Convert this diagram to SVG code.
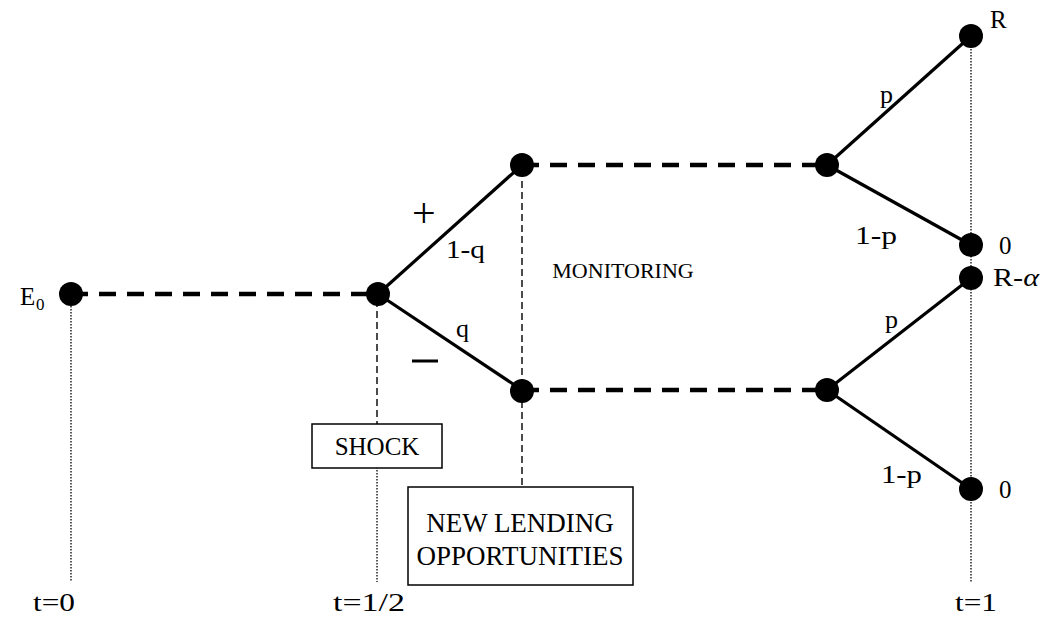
<svg xmlns="http://www.w3.org/2000/svg" width="1060" height="622" viewBox="0 0 1060 622" font-family="'Liberation Serif','DejaVu Serif',serif">
<style>
text{font-family:"Liberation Serif","DejaVu Serif",serif;fill:#000;}
.thick{stroke:#000;stroke-width:3.2;fill:none;}
.tdash{stroke:#000;stroke-width:4.5;stroke-dasharray:17 11;fill:none;}
.thin{stroke:#000;stroke-width:1.4;stroke-dasharray:7 4;fill:none;}
.dot{stroke:#000;stroke-width:1.3;stroke-dasharray:1.5 1.5;fill:none;}
.box{fill:#fff;stroke:#000;stroke-width:1.5;}
.n{fill:#000;}
</style>
<g id="connectors">
<line class="dot" x1="71" y1="300" x2="71" y2="582"/>
<line class="dot" x1="377" y1="467" x2="377" y2="582"/>
<line class="dot" x1="971" y1="40" x2="971" y2="582"/>
<line class="thin" x1="377" y1="300" x2="377" y2="424"/>
<line class="thin" x1="522" y1="170" x2="522" y2="487"/>
<line class="tdash" x1="71" y1="294" x2="378" y2="294"/>
<line class="tdash" x1="522" y1="165" x2="827" y2="165"/>
<line class="tdash" x1="522" y1="390" x2="827" y2="390"/>
<line class="thick" x1="378" y1="294" x2="522" y2="165"/>
<line class="thick" x1="378" y1="294" x2="522" y2="390"/>
<line class="thick" x1="827" y1="165" x2="971" y2="36"/>
<line class="thick" x1="827" y1="165" x2="971" y2="245"/>
<line class="thick" x1="827" y1="390" x2="971" y2="278"/>
<line class="thick" x1="827" y1="390" x2="971" y2="489"/>
</g>
<g id="E0"><circle class="n" cx="71" cy="294" r="12"/><text x="20" y="305" font-size="25">E</text><text x="36" y="310" font-size="17">0</text></g>
<g id="shockNode"><circle class="n" cx="378" cy="294" r="12"/></g>
<g id="upMid"><circle class="n" cx="522" cy="165" r="12"/></g>
<g id="lowMid"><circle class="n" cx="522" cy="391" r="12"/></g>
<g id="upRight"><circle class="n" cx="827" cy="165" r="12"/></g>
<g id="lowRight"><circle class="n" cx="827" cy="390" r="12"/></g>
<g id="R"><circle class="n" cx="971" cy="36" r="12"/><text x="990" y="28" font-size="25">R</text></g>
<g id="zeroUp"><circle class="n" cx="971" cy="245" r="12"/><text x="999" y="254" font-size="25">0</text></g>
<g id="Ralpha"><circle class="n" cx="971" cy="278" r="12"/><text x="993" y="286" font-size="25" textLength="46" lengthAdjust="spacingAndGlyphs">R-<tspan font-style="italic">α</tspan></text></g>
<g id="zeroLow"><circle class="n" cx="971" cy="489" r="12"/><text x="999" y="498" font-size="25">0</text></g>
<g id="labels">
<text x="412" y="227" font-size="42">+</text>
<rect x="412" y="359.5" width="26" height="3" fill="#000"/>
<text x="446" y="258" font-size="26" textLength="39" lengthAdjust="spacingAndGlyphs">1-q</text>
<text x="456" y="337" font-size="26">q</text>
<text x="880" y="103" font-size="26">p</text>
<text x="855" y="244" font-size="26" textLength="42" lengthAdjust="spacingAndGlyphs">1-p</text>
<text x="885" y="328" font-size="26">p</text>
<text x="881" y="483" font-size="26" textLength="41" lengthAdjust="spacingAndGlyphs">1-p</text>
<text x="623" y="278" font-size="22" text-anchor="middle">MONITORING</text>
<text x="33" y="611" font-size="26" textLength="42" lengthAdjust="spacingAndGlyphs">t=0</text>
<text x="333" y="611" font-size="26" textLength="72" lengthAdjust="spacingAndGlyphs">t=1/2</text>
<text x="955" y="611" font-size="26" textLength="42" lengthAdjust="spacingAndGlyphs">t=1</text>
</g>
<g id="shock"><rect class="box" x="312" y="424" width="130" height="44"/><text x="377" y="455" font-size="25" text-anchor="middle">SHOCK</text></g>
<g id="newLending"><rect class="box" x="408" y="487" width="225" height="98"/><text x="520" y="532" font-size="27" text-anchor="middle">NEW LENDING</text><text x="520" y="565" font-size="27" text-anchor="middle">OPPORTUNITIES</text></g>
</svg>
